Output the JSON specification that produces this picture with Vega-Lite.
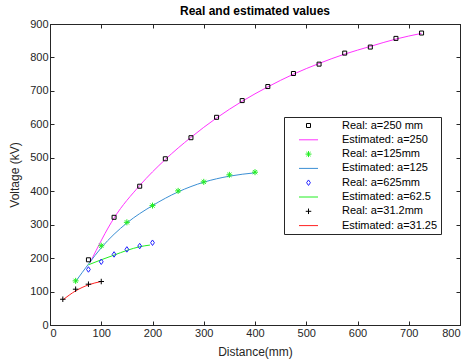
{
  "$schema": "https://vega.github.io/schema/vega-lite/v6.json",
  "width": 410,
  "height": 301,
  "autosize": {"type": "none"},
  "padding": {"left": 50, "top": 24, "right": 12, "bottom": 39},
  "background": "white",
  "title": {"text": "Real and estimated values", "fontSize": 12, "fontWeight": "bold", "font": "Liberation Sans", "color": "#000000", "offset": 0},
  "config": {
    "font": "Liberation Sans",
    "view": {"stroke": "#262626", "strokeWidth": 1},
    "axis": {"grid": false, "domainColor": "#262626", "tickColor": "#262626", "labelColor": "#262626", "labelFontSize": 11, "titleFontSize": 12, "titleFontWeight": "normal", "titleColor": "#262626", "tickSize": -4, "labelPadding": 6, "labelFont": "Liberation Sans", "titleFont": "Liberation Sans"}
  },
  "data": {"values": [
    {"series": "Real: a=250 mm", "kind": "Real", "x": 75, "y": 195},
    {"series": "Real: a=250 mm", "kind": "Real", "x": 125, "y": 322},
    {"series": "Real: a=250 mm", "kind": "Real", "x": 175, "y": 415},
    {"series": "Real: a=250 mm", "kind": "Real", "x": 225, "y": 497},
    {"series": "Real: a=250 mm", "kind": "Real", "x": 275, "y": 560},
    {"series": "Real: a=250 mm", "kind": "Real", "x": 325, "y": 621},
    {"series": "Real: a=250 mm", "kind": "Real", "x": 375, "y": 671},
    {"series": "Real: a=250 mm", "kind": "Real", "x": 425, "y": 713},
    {"series": "Real: a=250 mm", "kind": "Real", "x": 475, "y": 752},
    {"series": "Real: a=250 mm", "kind": "Real", "x": 525, "y": 780},
    {"series": "Real: a=250 mm", "kind": "Real", "x": 575, "y": 813},
    {"series": "Real: a=250 mm", "kind": "Real", "x": 625, "y": 831},
    {"series": "Real: a=250 mm", "kind": "Real", "x": 675, "y": 857},
    {"series": "Real: a=250 mm", "kind": "Real", "x": 725, "y": 873},
    {"series": "Estimated: a=250", "kind": "Estimated", "x": 78, "y": 186},
    {"series": "Estimated: a=250", "kind": "Estimated", "x": 125, "y": 320},
    {"series": "Estimated: a=250", "kind": "Estimated", "x": 175, "y": 417},
    {"series": "Estimated: a=250", "kind": "Estimated", "x": 225, "y": 495},
    {"series": "Estimated: a=250", "kind": "Estimated", "x": 275, "y": 561},
    {"series": "Estimated: a=250", "kind": "Estimated", "x": 325, "y": 619},
    {"series": "Estimated: a=250", "kind": "Estimated", "x": 375, "y": 669},
    {"series": "Estimated: a=250", "kind": "Estimated", "x": 425, "y": 712},
    {"series": "Estimated: a=250", "kind": "Estimated", "x": 475, "y": 750},
    {"series": "Estimated: a=250", "kind": "Estimated", "x": 525, "y": 782},
    {"series": "Estimated: a=250", "kind": "Estimated", "x": 575, "y": 810},
    {"series": "Estimated: a=250", "kind": "Estimated", "x": 625, "y": 833},
    {"series": "Estimated: a=250", "kind": "Estimated", "x": 675, "y": 855},
    {"series": "Estimated: a=250", "kind": "Estimated", "x": 725, "y": 872},
    {"series": "Real: a=125mm", "kind": "Real", "x": 50, "y": 132},
    {"series": "Real: a=125mm", "kind": "Real", "x": 100, "y": 237},
    {"series": "Real: a=125mm", "kind": "Real", "x": 150, "y": 307},
    {"series": "Real: a=125mm", "kind": "Real", "x": 200, "y": 357},
    {"series": "Real: a=125mm", "kind": "Real", "x": 250, "y": 401},
    {"series": "Real: a=125mm", "kind": "Real", "x": 300, "y": 428},
    {"series": "Real: a=125mm", "kind": "Real", "x": 350, "y": 449},
    {"series": "Real: a=125mm", "kind": "Real", "x": 400, "y": 457},
    {"series": "Estimated: a=125", "kind": "Estimated", "x": 50, "y": 130},
    {"series": "Estimated: a=125", "kind": "Estimated", "x": 75, "y": 182},
    {"series": "Estimated: a=125", "kind": "Estimated", "x": 100, "y": 231},
    {"series": "Estimated: a=125", "kind": "Estimated", "x": 150, "y": 305},
    {"series": "Estimated: a=125", "kind": "Estimated", "x": 200, "y": 357},
    {"series": "Estimated: a=125", "kind": "Estimated", "x": 250, "y": 398},
    {"series": "Estimated: a=125", "kind": "Estimated", "x": 300, "y": 427},
    {"series": "Estimated: a=125", "kind": "Estimated", "x": 350, "y": 445},
    {"series": "Estimated: a=125", "kind": "Estimated", "x": 400, "y": 455},
    {"series": "Real: a=625mm", "kind": "Real", "x": 75, "y": 166},
    {"series": "Real: a=625mm", "kind": "Real", "x": 100, "y": 189},
    {"series": "Real: a=625mm", "kind": "Real", "x": 125, "y": 211},
    {"series": "Real: a=625mm", "kind": "Real", "x": 150, "y": 226},
    {"series": "Real: a=625mm", "kind": "Real", "x": 175, "y": 236},
    {"series": "Real: a=625mm", "kind": "Real", "x": 200, "y": 246},
    {"series": "Estimated: a=62.5", "kind": "Estimated", "x": 75, "y": 180},
    {"series": "Estimated: a=62.5", "kind": "Estimated", "x": 100, "y": 195},
    {"series": "Estimated: a=62.5", "kind": "Estimated", "x": 125, "y": 209},
    {"series": "Estimated: a=62.5", "kind": "Estimated", "x": 150, "y": 223},
    {"series": "Estimated: a=62.5", "kind": "Estimated", "x": 175, "y": 234},
    {"series": "Estimated: a=62.5", "kind": "Estimated", "x": 195, "y": 239},
    {"series": "Real: a=31.2mm", "kind": "Real", "x": 25, "y": 77},
    {"series": "Real: a=31.2mm", "kind": "Real", "x": 50, "y": 107},
    {"series": "Real: a=31.2mm", "kind": "Real", "x": 75, "y": 122},
    {"series": "Real: a=31.2mm", "kind": "Real", "x": 100, "y": 130},
    {"series": "Estimated: a=31.25", "kind": "Estimated", "x": 25, "y": 75},
    {"series": "Estimated: a=31.25", "kind": "Estimated", "x": 50, "y": 102},
    {"series": "Estimated: a=31.25", "kind": "Estimated", "x": 75, "y": 120},
    {"series": "Estimated: a=31.25", "kind": "Estimated", "x": 100, "y": 130}
  ]},
  "resolve": {"axis": {"x": "independent", "y": "independent"}},
  "layer": [
    {
      "transform": [{"filter": "datum.kind === 'Estimated'"}],
      "mark": {"type": "line", "interpolate": "monotone", "strokeWidth": 1},
      "encoding": {
        "x": {"field": "x", "type": "quantitative", "scale": {"domain": [0, 800], "nice": false}, "axis": {"title": "Distance(mm)", "values": [0,100,200,300,400,500,600,700,800], "titlePadding": 8}},
        "y": {"field": "y", "type": "quantitative", "scale": {"domain": [0, 900], "nice": false}, "axis": {"title": "Voltage (kV)", "values": [0,100,200,300,400,500,600,700,800,900], "titlePadding": 8}},
        "detail": {"field": "series"},
        "color": {"field": "series", "type": "nominal", "sort": null,
          "scale": {
            "domain": ["Real: a=250 mm", "Estimated: a=250", "Real: a=125mm", "Estimated: a=125", "Real: a=625mm", "Estimated: a=62.5", "Real: a=31.2mm", "Estimated: a=31.25"],
            "range": ["#000000", "#ff33ff", "#22ee22", "#3b8fd4", "#2222ff", "#22ee22", "#000000", "#ff2222"]
          },
          "legend": {"title": null, "orient": "none", "legendX": 234, "legendY": 93, "fillColor": "white", "strokeColor": "#262626", "padding": 3, "symbolSize": 100, "rowPadding": 2.3, "labelFontSize": 11, "labelColor": "#000000", "labelOffset": 28, "symbolOffset": 16, "symbolStrokeWidth": 1, "labelFont": "Liberation Sans",
            "encode": {"symbols": {"update": {"stroke": {"scale": "color", "field": "value"}, "fill": {"value": "transparent"}}}}}
        }
      }
    },
    {
      "transform": [{"filter": "datum.kind === 'Real'"}],
      "mark": {"type": "point", "filled": false, "size": 100, "strokeWidth": 1, "opacity": 1},
      "encoding": {
        "x": {"field": "x", "type": "quantitative", "axis": {"orient": "top", "labels": false, "title": null, "values": [0,100,200,300,400,500,600,700,800]}},
        "y": {"field": "y", "type": "quantitative", "axis": {"orient": "right", "labels": false, "title": null, "values": [0,100,200,300,400,500,600,700,800,900]}},
        "color": {"field": "series", "type": "nominal", "sort": null},
        "shape": {"field": "series", "type": "nominal", "sort": null,
          "scale": {
            "domain": ["Real: a=250 mm", "Estimated: a=250", "Real: a=125mm", "Estimated: a=125", "Real: a=625mm", "Estimated: a=62.5", "Real: a=31.2mm", "Estimated: a=31.25"],
            "range": ["M-0.4,-0.4L0.4,-0.4L0.4,0.4L-0.4,0.4Z", "M-1.9,0L1.9,0", "M0,-0.6L0,0.6M-0.6,0L0.6,0M-0.42,-0.42L0.42,0.42M-0.42,0.42L0.42,-0.42", "M-1.9,0L1.9,0", "M0,-0.55L0.38,0L0,0.55L-0.38,0Z", "M-1.9,0L1.9,0", "M0,-0.55L0,0.55M-0.55,0L0.55,0", "M-1.9,0L1.9,0"]
          },
          "legend": {"title": null, "orient": "none", "legendX": 234, "legendY": 93, "fillColor": "white", "strokeColor": "#262626", "padding": 3, "symbolSize": 100, "rowPadding": 2.3, "labelFontSize": 11, "labelColor": "#000000", "labelOffset": 28, "symbolOffset": 16, "symbolStrokeWidth": 1, "labelFont": "Liberation Sans",
            "encode": {"symbols": {"update": {"stroke": {"scale": "color", "field": "value"}, "fill": {"value": "transparent"}}}}}
        }
      }
    }
  ]
}
